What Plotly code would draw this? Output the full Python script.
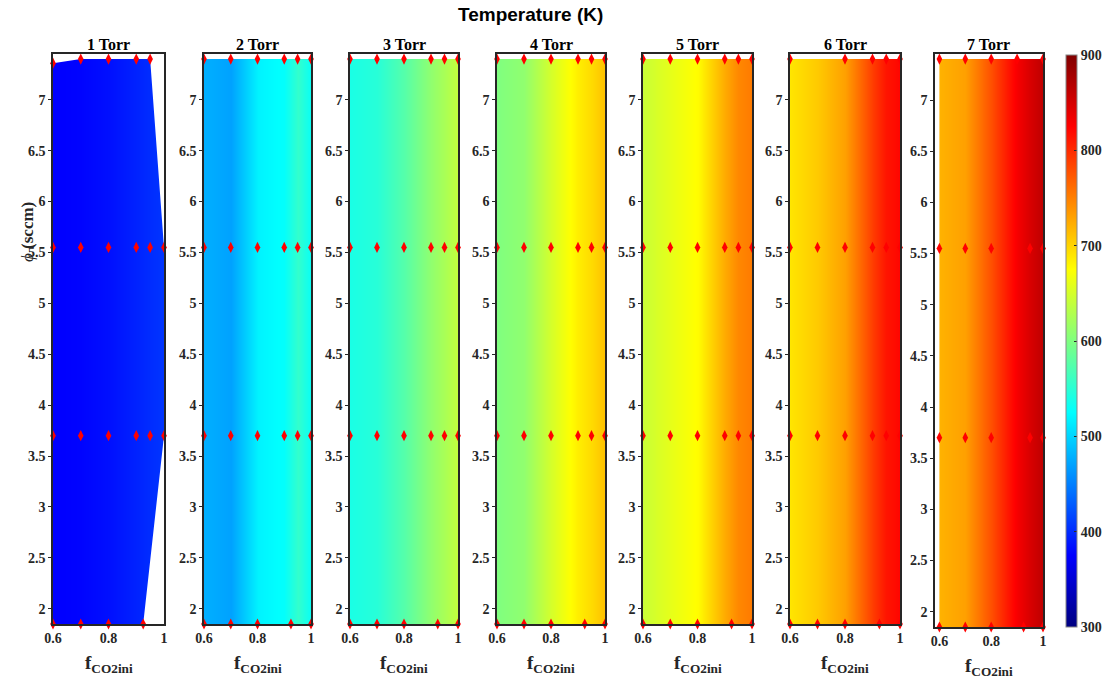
import plotly.graph_objects as go

# ---------------- data ----------------
panel_titles = ["1 Torr", "2 Torr", "3 Torr", "4 Torr", "5 Torr", "6 Torr", "7 Torr"]

# interpolation grid (f_CO2ini columns, phi rows)
x_grid = [0.6, 0.7, 0.8, 0.9, 0.95, 1.0]
y_grid = [1.85, 3.7, 5.55, 7.4]

# temperature (K) read along f_CO2ini (nearly uniform in phi)
T_1torr = [374, 377, 384, 395, 401, 406]
T_2torr = [478, 470, 518, 527, 555, 530]
T_3torr = [540, 548, 575, 610, 625, 640]
T_4torr = [600, 610, 650, 685, 697, 712]
T_5torr = [643, 660, 677, 725, 745, 753]
T_6torr = [690, 707, 731, 790, 813, 822]
T_7torr = [720, 731, 778, 830, 848, 863]
T_profiles = [T_1torr, T_2torr, T_3torr, T_4torr, T_5torr, T_6torr, T_7torr]

# measured points (red diamonds): per panel, rows of (phi, [f_CO2ini ...])
pts_1torr = [(1.85, [0.6, 0.7, 0.8, 0.925]), (3.7, [0.6, 0.7, 0.8, 0.9, 0.95, 1.0]),
             (5.55, [0.6, 0.7, 0.8, 0.9, 0.95, 1.0]), (7.36, [0.6]), (7.4, [0.7, 0.8, 0.9, 0.95])]
pts_2torr = [(1.85, [0.6, 0.7, 0.8, 0.925, 1.0]), (3.7, [0.6, 0.7, 0.8, 0.9, 0.95, 1.0]),
             (5.55, [0.6, 0.7, 0.8, 0.9, 0.95, 1.0]), (7.4, [0.6, 0.7, 0.8, 0.9, 0.95, 1.0])]
pts_3torr = pts_2torr
pts_4torr = pts_2torr
pts_5torr = pts_2torr
pts_6torr = [(1.85, [0.6, 0.7, 0.8, 0.925, 1.0]), (3.7, [0.6, 0.7, 0.8, 0.9, 0.95, 1.0]),
             (5.55, [0.6, 0.7, 0.8, 0.9, 0.95, 1.0]), (7.4, [0.6, 0.8, 0.9, 0.95, 1.0])]
pts_7torr = [(1.85, [0.6, 0.7, 0.8, 0.925, 1.0]), (3.7, [0.6, 0.7, 0.8, 0.95, 1.0]),
             (5.55, [0.6, 0.7, 0.8, 0.95, 1.0]), (7.4, [0.6, 0.7, 0.8, 0.9, 1.0])]
points = [pts_1torr, pts_2torr, pts_3torr, pts_4torr, pts_5torr, pts_6torr, pts_7torr]

x_ticks = [0.6, 0.8, 1.0]
y_ticks = [2, 2.5, 3, 3.5, 4, 4.5, 5, 5.5, 6, 6.5, 7]
c_ticks = [300, 400, 500, 600, 700, 800, 900]

# ---------------- layout geometry (pixels) ----------------
W, H = 1113, 682
panel_px = [(53, 164), (204, 311), (350, 458), (497, 605), (643, 752), (790, 900), (935, 1043)]
panel_ypx = [(54, 624)] * 6 + [(54, 627)]
x_ranges = [[0.6, 1.0]] * 6 + [[0.583, 1.0]]
y_range = [1.85, 7.45]

jet = [[0.0, "rgb(0,0,128)"], [0.125, "rgb(0,0,255)"], [0.375, "rgb(0,255,255)"],
       [0.625, "rgb(255,255,0)"], [0.875, "rgb(255,0,0)"], [1.0, "rgb(128,0,0)"]]


def convex_hull(pts):
    pts = sorted(set(pts))
    def cross(o, a, b):
        return (a[0] - o[0]) * (b[1] - o[1]) - (a[1] - o[1]) * (b[0] - o[0])
    lower, upper = [], []
    for p in pts:
        while len(lower) >= 2 and cross(lower[-2], lower[-1], p) <= 0:
            lower.pop()
        lower.append(p)
    for p in reversed(pts):
        while len(upper) >= 2 and cross(upper[-2], upper[-1], p) <= 0:
            upper.pop()
        upper.append(p)
    return lower[:-1] + upper[:-1]  # counter-clockwise


fig = go.Figure()
serif = "Liberation Serif"


def ann(x, y, text, size, family=serif, color="#262626", angle=0):
    fig.add_annotation(x=x / W, y=(H - y) / H, xref="paper", yref="paper",
                       xanchor="center", yanchor="middle", textangle=angle,
                       text=text, showarrow=False,
                       font=dict(family=family, size=size, color=color))


for i in range(7):
    n = i + 1
    xa = "x" if n == 1 else f"x{n}"
    ya = "y" if n == 1 else f"y{n}"
    z = [T_profiles[i] for _ in y_grid]
    fig.add_trace(go.Heatmap(x=x_grid, y=y_grid, z=z, zsmooth="best", coloraxis="coloraxis",
                             xaxis=xa, yaxis=ya, hoverinfo="skip"))
    mx, my = [], []
    for (phi, fs) in points[i]:
        for f in fs:
            mx.append(f); my.append(phi)
    hull = convex_hull(list(zip(mx, my)))
    x0, x1 = x_ranges[i]
    y0, y1 = y_range
    k = min(range(len(hull)), key=lambda j: (hull[j][0], hull[j][1]))
    hull_ccw = hull[k:] + hull[:k]
    hull_cw = [hull_ccw[0]] + hull_ccw[1:][::-1]
    px = [x0, x1, x1, x0, x0] + [p[0] for p in hull_cw] + [hull_cw[0][0], x0]
    py = [y0, y0, y1, y1, y0] + [p[1] for p in hull_cw] + [hull_cw[0][1], y0]
    fig.add_trace(go.Scatter(x=px, y=py, mode="lines", fill="toself", fillcolor="white",
                             line=dict(width=0), xaxis=xa, yaxis=ya, hoverinfo="skip",
                             showlegend=False))
    fig.add_trace(go.Scatter(x=mx, y=my, mode="markers",
                             marker=dict(symbol="diamond-tall", size=8, color="red"),
                             xaxis=xa, yaxis=ya, showlegend=False, cliponaxis=False,
                             hoverinfo="skip"))

    l, r = panel_px[i]
    t, b = panel_ypx[i]
    axis_common = dict(showline=True, mirror=True, linecolor="#262626", linewidth=1.5,
                       showgrid=False, zeroline=False, automargin=False,
                       tickfont=dict(family=serif, size=14, color="#262626"))
    fig.layout[f"xaxis{'' if n == 1 else n}"] = dict(
        domain=[l / W, r / W], range=x_ranges[i], anchor=ya,
        tickvals=x_ticks, ticktext=[f"<b>{v:g}</b>" for v in x_ticks], ticks="", **axis_common)
    fig.layout[f"yaxis{'' if n == 1 else n}"] = dict(
        domain=[(H - b) / H, (H - t) / H], range=y_range, anchor=xa,
        tickvals=y_ticks, ticktext=[f"<b>{v:g}</b>" for v in y_ticks],
        ticks="outside", ticklen=3, tickcolor="#262626", **axis_common)

    cx = (l + r) / 2
    ann(cx, 44, f"<b>{panel_titles[i]}</b>", 16, color="black")
    ann(cx, 664 + (3 if n == 7 else 0), "<b>f<sub>CO2ini</sub></b>", 19)

ann(27, 232, "<i>ϕ</i> <b>(sccm)</b>", 17, angle=-90)
ann(530, 15, "<b>Temperature (K)</b>", 19, family="Liberation Sans", color="black")

fig.update_layout(
    width=W, height=H, autosize=False, margin=dict(l=0, r=0, t=0, b=0, pad=0),
    paper_bgcolor="white", plot_bgcolor="white", showlegend=False,
    coloraxis=dict(colorscale=jet, cmin=300, cmax=900,
                   colorbar=dict(x=1066 / W, xanchor="left", y=(H - 341) / H, yanchor="middle",
                                 len=572 / H, lenmode="fraction", thickness=11,
                                 thicknessmode="pixels", outlinecolor="#888888", outlinewidth=1,
                                 xpad=0, ypad=0,
                                 tickvals=c_ticks, ticktext=[f"<b>{v}</b>" for v in c_ticks],
                                 ticks="inside", ticklen=3, tickcolor="#262626",
                                 tickfont=dict(family=serif, size=14, color="#262626"))),
)

fig.write_html("out.html", config={"displayModeBar": False},
               post_script="document.body.style.margin='0';")
